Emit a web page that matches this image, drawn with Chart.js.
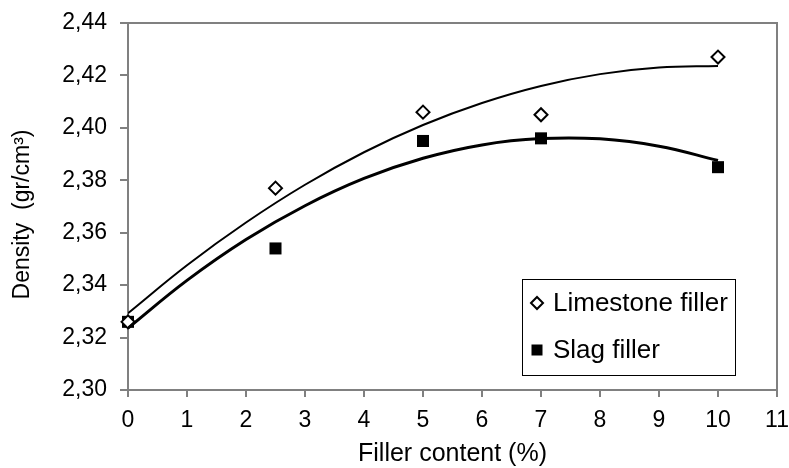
<!DOCTYPE html>
<html>
<head>
<meta charset="utf-8">
<script src="https://cdn.jsdelivr.net/npm/chart.js@4.4.1/dist/chart.umd.min.js"></script>
<style>
  html, body { margin: 0; padding: 0; background: #fff; }
</style>
</head>
<body>
<canvas id="densityChart" width="789" height="468"></canvas>
<script>
// measured points
const fillerContent = [0, 2.5, 5, 7, 10];
const limestoneDensity = [2.326, 2.377, 2.406, 2.405, 2.427];
const slagDensity = [2.326, 2.354, 2.395, 2.396, 2.385];

// trendlines at each % of filler
const trendContent = [0, 1, 2, 3, 4, 5, 6, 7, 8, 9, 10];
const limestoneTrend = [2.3293, 2.3476, 2.3639, 2.3783, 2.3907, 2.4011, 2.4095, 2.4160, 2.4205, 2.4230, 2.4236];
const slagTrend = [2.3236, 2.3418, 2.3574, 2.3703, 2.3807, 2.3884, 2.3935, 2.3959, 2.3958, 2.3930, 2.3876];

const xTicks = [0, 1, 2, 3, 4, 5, 6, 7, 8, 9, 10, 11];
const yTicks = [2.30, 2.32, 2.34, 2.36, 2.38, 2.40, 2.42, 2.44];

const legendLabels = ['Limestone filler', 'Slag filler'];
const yTitle = 'Density  (gr/cm\u00B3)';
const xTitle = 'Filler content (%)';

const FONT = "'Liberation Sans', Arial, sans-serif";
const AXIS_GREY = '#808080';

const toPoints = (xs, ys) => xs.map((x, i) => ({ x: x, y: ys[i] }));

// frame on top/right, legend box and rotated y title
const chartDecor = {
    id: 'chartDecor',
    beforeDatasetsDraw: (chart) => {
        const { ctx, chartArea: a } = chart;
        ctx.save();
        ctx.strokeStyle = AXIS_GREY;
        ctx.lineWidth = 2;
        ctx.beginPath();
        ctx.moveTo(a.left, a.top);
        ctx.lineTo(a.right, a.top);
        ctx.lineTo(a.right, a.bottom);
        ctx.stroke();
        ctx.restore();
    },
    afterDraw: (chart) => {
        const { ctx, chartArea: a } = chart;
        ctx.save();

        // legend
        const bx = a.right - 255, by = a.bottom - 111, bw = 213, bh = 96;
        ctx.fillStyle = '#fff';
        ctx.fillRect(bx, by, bw, bh);
        ctx.strokeStyle = '#000';
        ctx.lineWidth = 1;
        ctx.strokeRect(bx + 0.5, by + 0.5, bw, bh);

        const mx = bx + 15;
        const rows = [by + 24, by + 71];
        // diamond
        ctx.beginPath();
        ctx.moveTo(mx - 6, rows[0]);
        ctx.lineTo(mx, rows[0] - 6);
        ctx.lineTo(mx + 6, rows[0]);
        ctx.lineTo(mx, rows[0] + 6);
        ctx.closePath();
        ctx.fillStyle = '#fff';
        ctx.fill();
        ctx.lineWidth = 2;
        ctx.stroke();
        // square
        ctx.fillStyle = '#000';
        ctx.fillRect(mx - 5.5, rows[1] - 5.5, 11, 11);

        ctx.font = '26px ' + FONT;
        ctx.textAlign = 'left';
        ctx.textBaseline = 'middle';
        legendLabels.forEach((t, i) => ctx.fillText(t, bx + 31, rows[i] + 1));

        // y axis title
        ctx.translate(23, (a.top + a.bottom) / 2 + 8);
        ctx.rotate(-Math.PI / 2);
        ctx.font = '23px ' + FONT;
        ctx.textAlign = 'center';
        ctx.fillText(yTitle, 0, 0);
        ctx.restore();
    }
};

const ctx = document.getElementById('densityChart');
new Chart(ctx, {
    type: 'scatter',
    data: {
        datasets: [
            {
                label: legendLabels[0] + ' trend',
                data: toPoints(trendContent, limestoneTrend),
                showLine: true,
                borderColor: '#000',
                borderWidth: 2,
                tension: 0.4,
                pointRadius: 0
            },
            {
                label: legendLabels[1] + ' trend',
                data: toPoints(trendContent, slagTrend),
                showLine: true,
                borderColor: '#000',
                borderWidth: 3,
                tension: 0.4,
                pointRadius: 0
            },
            {
                label: legendLabels[0],
                data: toPoints(fillerContent, limestoneDensity),
                pointStyle: 'rectRot',
                pointRadius: 6.5,
                pointBackgroundColor: '#fff',
                pointBorderColor: '#000',
                pointBorderWidth: 2,
                clip: false
            },
            {
                label: legendLabels[1],
                data: toPoints(fillerContent, slagDensity),
                pointStyle: 'rect',
                pointRadius: 8.5,
                pointBackgroundColor: '#000',
                pointBorderColor: '#000',
                pointBorderWidth: 0,
                clip: false
            }
        ]
    },
    options: {
        responsive: false,
        animation: false,
        layout: { padding: { left: 0, top: 23, right: 12, bottom: 0 } },
        plugins: {
            legend: { display: false },
            tooltip: { enabled: false }
        },
        scales: {
            x: {
                type: 'linear',
                min: 0,
                max: 11,
                afterFit: (s) => { s.height = 78; s.paddingLeft = 0; s.paddingRight = 0; },
                afterBuildTicks: (s) => { s.ticks = xTicks.map(v => ({ value: v })); },
                grid: { drawOnChartArea: false, drawTicks: true, tickLength: 7, color: AXIS_GREY, lineWidth: 2 },
                border: { color: AXIS_GREY, width: 2 },
                ticks: { color: '#000', padding: 10, maxRotation: 0, font: { family: FONT, size: 23, lineHeight: 1.2 } },
                title: { display: true, text: xTitle, color: '#000', padding: 0, font: { family: FONT, size: 25, lineHeight: 1.1 } }
            },
            y: {
                type: 'linear',
                min: 2.30,
                max: 2.44,
                afterFit: (s) => { s.width = 128; s.paddingTop = 0; s.paddingBottom = 0; },
                afterBuildTicks: (s) => { s.ticks = yTicks.map(v => ({ value: v })); },
                grid: { drawOnChartArea: false, drawTicks: true, tickLength: 8, color: AXIS_GREY, lineWidth: 2 },
                border: { color: AXIS_GREY, width: 2 },
                ticks: {
                    color: '#000',
                    padding: 13,
                    font: { family: FONT, size: 23 },
                    callback: (v) => v.toFixed(2).replace('.', ',')
                }
            }
        }
    },
    plugins: [chartDecor]
});
</script>
</body>
</html>
